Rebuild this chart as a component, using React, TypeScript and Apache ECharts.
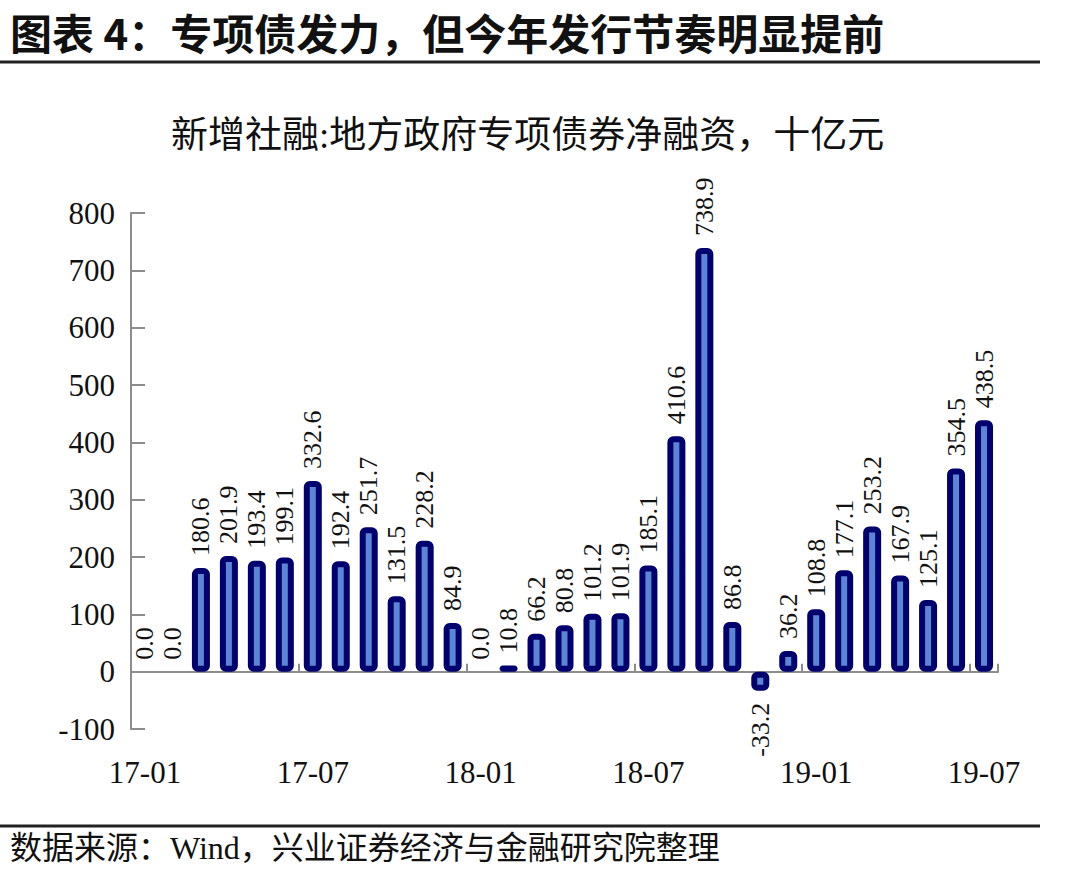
import React, { useEffect, useRef } from "react";
import * as echarts from "echarts";

const categories: string[] = [
  "17-01", "17-02", "17-03", "17-04", "17-05", "17-06", "17-07", "17-08", "17-09", "17-10", "17-11", "17-12",
  "18-01", "18-02", "18-03", "18-04", "18-05", "18-06", "18-07", "18-08", "18-09", "18-10", "18-11", "18-12",
  "19-01", "19-02", "19-03", "19-04", "19-05", "19-06", "19-07",
];

const netFinancing: number[] = [
  0.0, 0.0, 180.6, 201.9, 193.4, 199.1, 332.6, 192.4, 251.7, 131.5, 228.2, 84.9,
  0.0, 10.8, 66.2, 80.8, 101.2, 101.9, 185.1, 410.6, 738.9, 86.8, -33.2, 36.2,
  108.8, 177.1, 253.2, 167.9, 125.1, 354.5, 438.5,
];

const yTicks = { min: -100, max: 800, interval: 100 };

const headingText = "图表 4：专项债发力，但今年发行节奏明显提前";
const chartTitle = "新增社融:地方政府专项债券净融资，十亿元";
const sourceText = "数据来源：Wind，兴业证券经济与金融研究院整理";

const SERIF = "'Liberation Serif', 'Times New Roman', 'Noto Sans CJK SC', serif";
const CJK = "'Noto Sans CJK SC', sans-serif";

export default function App() {
  const ref = useRef<HTMLDivElement>(null);

  useEffect(() => {
    if (!ref.current) return;
    const chart = echarts.init(ref.current, undefined, { renderer: "svg" });

    const data = netFinancing.map((v) => {
      if (v === 0) {
        return {
          value: v,
          itemStyle: { borderWidth: 0, color: "rgba(0,0,0,0)", borderColor: "rgba(0,0,0,0)" },
        };
      }
      if (v < 0) {
        return {
          value: v,
          label: { position: "bottom", align: "right" },
        };
      }
      return v;
    });

    chart.setOption({
      animation: false,
      backgroundColor: "#ffffff",
      title: {
        text: chartTitle,
        left: 166,
        top: 112,
        textStyle: {
          fontFamily: SERIF,
          fontSize: 37,
          fontWeight: "normal",
          color: "#111",
        },
      },
      graphic: [
        {
          type: "text",
          left: 10,
          top: 10,
          style: {
            text: headingText,
            font: `bold 42px ${CJK}`,
            fill: "#111",
          },
        },
        {
          type: "line",
          shape: { x1: 0, y1: 62, x2: 1040, y2: 62 },
          style: { stroke: "#222", lineWidth: 3 },
        },
        {
          type: "line",
          shape: { x1: 0, y1: 826, x2: 1040, y2: 826 },
          style: { stroke: "#222", lineWidth: 3 },
        },
        {
          type: "text",
          left: 10,
          top: 832,
          style: {
            text: sourceText,
            font: `32px ${SERIF}`,
            fill: "#111",
          },
        },
      ],
      grid: {
        left: 131,
        right: 82,
        top: 213,
        bottom: 145,
        containLabel: false,
      },
      xAxis: [
        {
          type: "category",
          data: categories,
          position: "bottom",
          axisLine: { show: false, onZero: false },
          axisTick: { show: false },
          axisLabel: {
            interval: 5,
            fontFamily: SERIF,
            fontSize: 31,
            color: "#111",
            margin: 28,
          },
        },
        {
          type: "category",
          data: categories,
          position: "bottom",
          axisLine: { show: true, onZero: true, lineStyle: { color: "#8c8c8c", width: 2 } },
          axisTick: {
            show: true,
            inside: true,
            interval: 5,
            length: 8,
            lineStyle: { color: "#8c8c8c", width: 2 },
          },
          axisLabel: { show: false },
        },
      ],
      yAxis: {
        type: "value",
        min: yTicks.min,
        max: yTicks.max,
        interval: yTicks.interval,
        axisLine: { show: true, lineStyle: { color: "#8c8c8c", width: 2 } },
        axisTick: { show: true, inside: true, length: 14, lineStyle: { color: "#8c8c8c", width: 2 } },
        splitLine: { show: false },
        axisLabel: {
          fontFamily: SERIF,
          fontSize: 31,
          color: "#111",
          margin: 16,
        },
      },
      series: [
        {
          type: "bar",
          xAxisIndex: 0,
          data,
          barWidth: 18,
          itemStyle: {
            color: "#5b86d4",
            borderColor: "#00006e",
            borderWidth: 6,
            borderRadius: 3,
          },
          label: {
            show: true,
            position: "top",
            rotate: 90,
            align: "left",
            verticalAlign: "middle",
            distance: 12,
            fontFamily: SERIF,
            fontSize: 26,
            color: "#111",
            formatter: (p: any) => Number(p.value).toFixed(1),
          },
        },
      ],
    });

    return () => chart.dispose();
  }, []);

  return (
    <div
      ref={ref}
      style={{ position: "fixed", left: 0, top: 0, width: 1080, height: 874 }}
    />
  );
}
